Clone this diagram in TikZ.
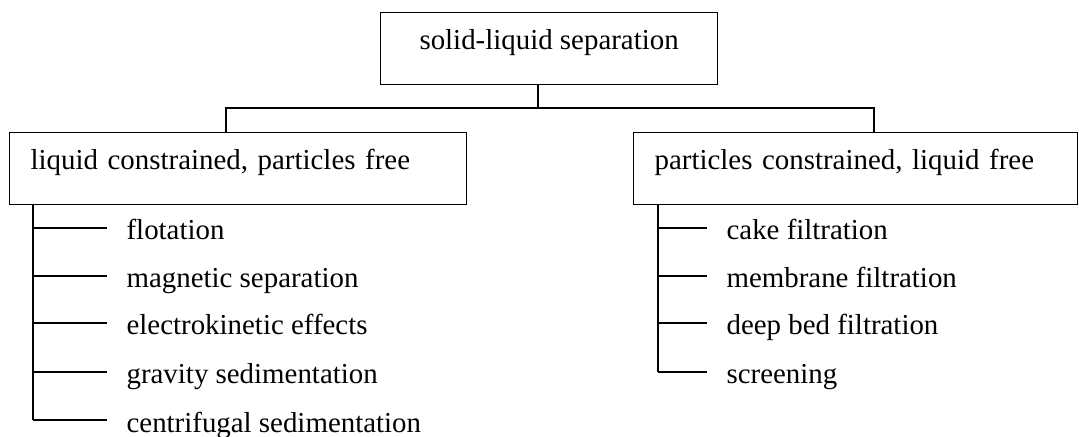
\documentclass[tikz,border=0pt]{standalone}
\usepackage{fontspec}
\setmainfont{Liberation Serif}
\begin{document}
\begin{tikzpicture}[x=1bp,y=-1bp,line width=1.2bp,
  box/.style={draw,line width=1.2bp,inner ysep=0pt,text height=37bp,text depth=35bp,font=\fontsize{29}{34}\selectfont},
  item/.style={anchor=base west,inner sep=0pt,font=\fontsize{29}{34}\selectfont},
  link/.style={line width=1.2bp}]
\useasboundingbox (0,0) rectangle (1079,437);
\node[box,anchor=north west,minimum width=337bp,inner xsep=0pt] (top) at (380,12) {solid-liquid separation};
\node[box,anchor=north west,inner xsep=21bp,text width=415bp,align=left] (L) at (9,132) {liquid constrained, particles free};
\node[box,anchor=north west,inner xsep=21bp,text width=402bp,align=left] (R) at (633,132) {particles constrained, liquid free};
% top connectors
\coordinate (tb) at (538,84);
\coordinate (tj) at (538,108);
\coordinate (lj) at (226,108);
\coordinate (rj) at (874,108);
\coordinate (lt) at (226,132);
\coordinate (rt) at (874,132);
\draw[link] (tb) -- (tj);
\draw[link] (lt) -- (lj) -- (rj) -- (rt);
% left items
\node[item] (l1) at (126,240) {flotation};
\node[item] (l2) at (126,288) {magnetic separation};
\node[item] (l3) at (126,335) {electrokinetic effects};
\node[item] (l4) at (126,384) {gravity sedimentation};
\node[item] (l5) at (126,432) {centrifugal sedimentation};
\coordinate (la) at (33,203.6);
\foreach \y/\n in {228/1,276/2,323/3,372/4,420/5}{
  \coordinate (lk\n) at (33,\y);
  \coordinate (le\n) at (107,\y);
  \draw[link] (lk\n) -- (le\n);
}
\draw[link] (la) -- (lk5);
% right items
\node[item] (r1) at (726,240) {cake filtration};
\node[item] (r2) at (726,288) {membrane filtration};
\node[item] (r3) at (726,335) {deep bed filtration};
\node[item] (r4) at (726,384) {screening};
\coordinate (ra) at (658,203.6);
\foreach \y/\n in {228/1,276/2,323/3,372/4}{
  \coordinate (rk\n) at (658,\y);
  \coordinate (re\n) at (707,\y);
  \draw[link] (rk\n) -- (re\n);
}
\draw[link] (ra) -- (rk4);
\end{tikzpicture}
\end{document}
